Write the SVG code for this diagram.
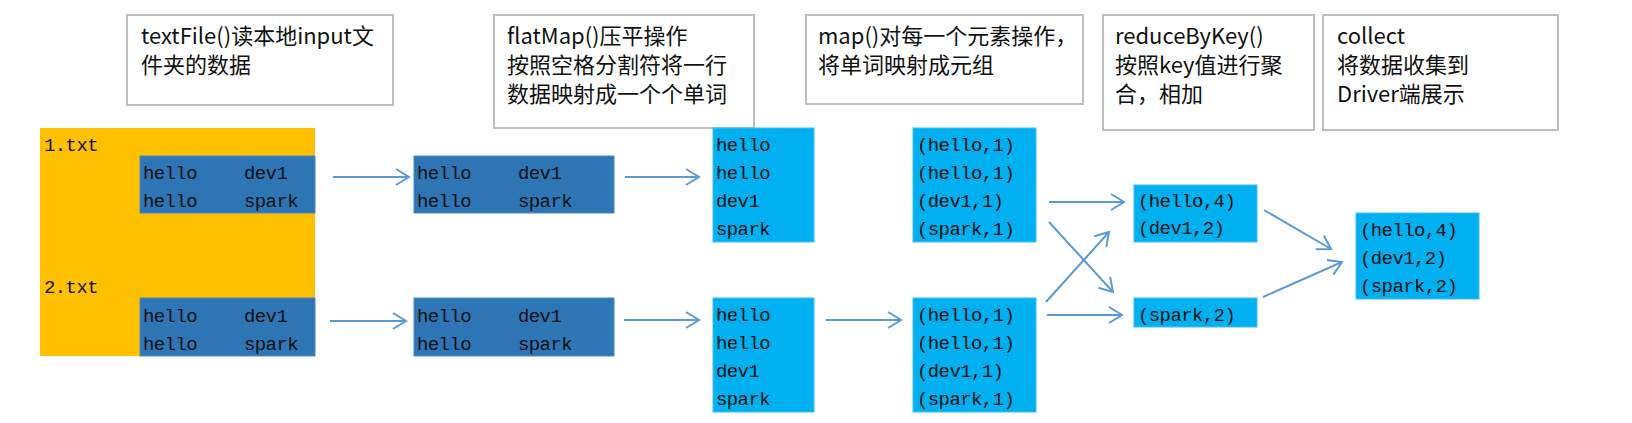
<svg xmlns="http://www.w3.org/2000/svg" width="1632" height="423" viewBox="0 0 1632 423">
<style>
.lbl{fill:#fff;stroke:#bfbfbf;stroke-width:2}
.lt{font-family:"Noto Sans CJK SC","Noto Sans",sans-serif;font-size:22px;fill:#111}
.mono{font-family:"Liberation Mono","DejaVu Sans Mono",monospace;font-size:19px;letter-spacing:-0.6px;fill:#111;white-space:pre}
.yel{fill:#ffc000}
.dk{fill:#2e75b6;stroke:#4a8ac6;stroke-width:1}
.cy{fill:#00b0f0;stroke:#3fc0f0;stroke-width:1}
.ar{stroke:#5b9bd5;stroke-width:2;fill:none;marker-end:url(#ah)}
</style>
<defs>
<marker id="ah" markerUnits="userSpaceOnUse" viewBox="-16 -10 18 20" refX="0" refY="0" markerWidth="18" markerHeight="20" orient="auto">
<path d="M-13,-8 L0,0 L-13,8" fill="none" stroke="#5b9bd5" stroke-width="2"/>
</marker>
</defs>
<rect width="1632" height="423" fill="#fff"/>

<g id="label-textFile">
<rect class="lbl" x="127" y="15" width="266" height="90"/>
<text class="lt" x="141" y="44">textFile()读本地input文</text>
<text class="lt" x="141" y="73">件夹的数据</text>
</g>
<g id="label-flatMap">
<rect class="lbl" x="494" y="15" width="260" height="113"/>
<text class="lt" x="507" y="44">flatMap()压平操作</text>
<text class="lt" x="507" y="73">按照空格分割符将一行</text>
<text class="lt" x="507" y="102">数据映射成一个个单词</text>
</g>
<g id="label-map">
<rect class="lbl" x="806" y="15" width="277" height="89"/>
<text class="lt" x="818" y="44">map()对每一个元素操作，</text>
<text class="lt" x="818" y="73">将单词映射成元组</text>
</g>
<g id="label-reduceByKey">
<rect class="lbl" x="1103" y="15" width="211" height="115"/>
<text class="lt" x="1115" y="44">reduceByKey()</text>
<text class="lt" x="1115" y="73">按照key值进行聚</text>
<text class="lt" x="1115" y="102">合，相加</text>
</g>
<g id="label-collect">
<rect class="lbl" x="1323" y="15" width="235" height="115"/>
<text class="lt" x="1337" y="44">collect</text>
<text class="lt" x="1337" y="73">将数据收集到</text>
<text class="lt" x="1337" y="102">Driver端展示</text>
</g>

<g id="input-files">
<rect class="yel" x="40" y="128" width="275" height="228"/>
<text class="mono" x="44" y="151">1.txt</text>
<text class="mono" x="44" y="293">2.txt</text>
</g>
<g id="file1-lines">
<rect class="dk" x="140" y="156" width="175" height="57"/>
<text class="mono" x="143" y="179">hello</text><text class="mono" x="244" y="179">dev1</text>
<text class="mono" x="143" y="207">hello</text><text class="mono" x="244" y="207">spark</text>
</g>
<g id="file2-lines">
<rect class="dk" x="140" y="298" width="175" height="58"/>
<text class="mono" x="143" y="322">hello</text><text class="mono" x="244" y="322">dev1</text>
<text class="mono" x="143" y="350">hello</text><text class="mono" x="244" y="350">spark</text>
</g>
<g id="rdd1-lines">
<rect class="dk" x="414" y="156" width="200" height="57"/>
<text class="mono" x="417" y="179">hello</text><text class="mono" x="518" y="179">dev1</text>
<text class="mono" x="417" y="207">hello</text><text class="mono" x="518" y="207">spark</text>
</g>
<g id="rdd2-lines">
<rect class="dk" x="414" y="298" width="200" height="58"/>
<text class="mono" x="417" y="322">hello</text><text class="mono" x="518" y="322">dev1</text>
<text class="mono" x="417" y="350">hello</text><text class="mono" x="518" y="350">spark</text>
</g>
<g id="words1">
<rect class="cy" x="713" y="128" width="101" height="114"/>
<text class="mono" x="716" y="151">hello</text>
<text class="mono" x="716" y="179">hello</text>
<text class="mono" x="716" y="207">dev1</text>
<text class="mono" x="716" y="235">spark</text>
</g>
<g id="words2">
<rect class="cy" x="713" y="298" width="101" height="114"/>
<text class="mono" x="716" y="321">hello</text>
<text class="mono" x="716" y="349">hello</text>
<text class="mono" x="716" y="377">dev1</text>
<text class="mono" x="716" y="405">spark</text>
</g>
<g id="tuples1">
<rect class="cy" x="913" y="128" width="123" height="114"/>
<text class="mono" x="917" y="151">(hello,1)</text>
<text class="mono" x="917" y="179">(hello,1)</text>
<text class="mono" x="917" y="207">(dev1,1)</text>
<text class="mono" x="917" y="235">(spark,1)</text>
</g>
<g id="tuples2">
<rect class="cy" x="913" y="298" width="123" height="114"/>
<text class="mono" x="917" y="321">(hello,1)</text>
<text class="mono" x="917" y="349">(hello,1)</text>
<text class="mono" x="917" y="377">(dev1,1)</text>
<text class="mono" x="917" y="405">(spark,1)</text>
</g>
<g id="reduced1">
<rect class="cy" x="1134" y="185" width="123" height="57"/>
<text class="mono" x="1138" y="207">(hello,4)</text>
<text class="mono" x="1138" y="234">(dev1,2)</text>
</g>
<g id="reduced2">
<rect class="cy" x="1134" y="298" width="123" height="29"/>
<text class="mono" x="1138" y="321">(spark,2)</text>
</g>
<g id="result">
<rect class="cy" x="1356" y="213" width="123" height="86"/>
<text class="mono" x="1360" y="236">(hello,4)</text>
<text class="mono" x="1360" y="264">(dev1,2)</text>
<text class="mono" x="1360" y="292">(spark,2)</text>
</g>

<g id="connectors">
<line class="ar" x1="333" y1="177" x2="409" y2="177"/>
<line class="ar" x1="330" y1="321" x2="406" y2="321"/>
<line class="ar" x1="625" y1="177" x2="699" y2="177"/>
<line class="ar" x1="624" y1="320" x2="699" y2="320"/>
<line class="ar" x1="826" y1="320" x2="901" y2="320"/>
<line class="ar" x1="1049" y1="202" x2="1124" y2="202"/>
<line class="ar" x1="1049" y1="222" x2="1113" y2="292"/>
<line class="ar" x1="1046" y1="302" x2="1109" y2="232"/>
<line class="ar" x1="1047" y1="315" x2="1122" y2="315"/>
<line class="ar" x1="1264" y1="210" x2="1331" y2="249"/>
<line class="ar" x1="1263" y1="297" x2="1342" y2="262"/>
</g>
</svg>
